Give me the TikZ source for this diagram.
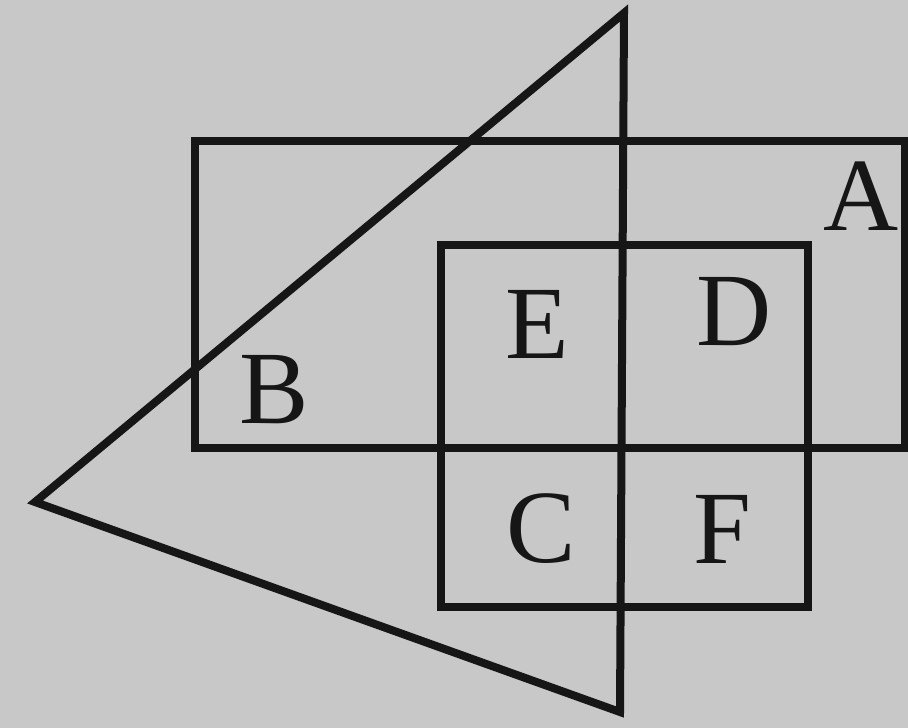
\documentclass[tikz,border=0pt]{standalone}
\usepackage{fontspec}
\setmainfont{Liberation Serif}
\definecolor{bg}{RGB}{200,200,200}
\definecolor{ink}{RGB}{22,22,22}
\begin{document}
\begin{tikzpicture}[x=1pt,y=-1pt,
  shape line/.style={draw=ink,line width=8pt,line join=miter},
  letter/.style={inner sep=0pt,anchor=base,text=ink,font=\fontsize{104}{104}\selectfont}]
\fill[bg] (0,0) rectangle (908,728);
\useasboundingbox (0,0) rectangle (908,728);
% triangle
\coordinate (apex) at (624,13);
\coordinate (tip) at (35,502);
\coordinate (bot) at (620,712);
\draw[shape line] (apex) -- (tip) -- (bot) -- cycle;
% rectangles
\draw[shape line] (195,141) rectangle (905,448);
\draw[shape line] (441,245) rectangle (808,607);
% labels
\node[letter] (A) at (861,230) {A};
\node[letter] (B) at (274,423) {B};
\node[letter] (E) at (537,358) {E};
\node[letter] (D) at (734,345) {D};
\node[letter] (C) at (541,562) {C};
\node[letter] (F) at (722,563) {F};
\end{tikzpicture}
\end{document}
